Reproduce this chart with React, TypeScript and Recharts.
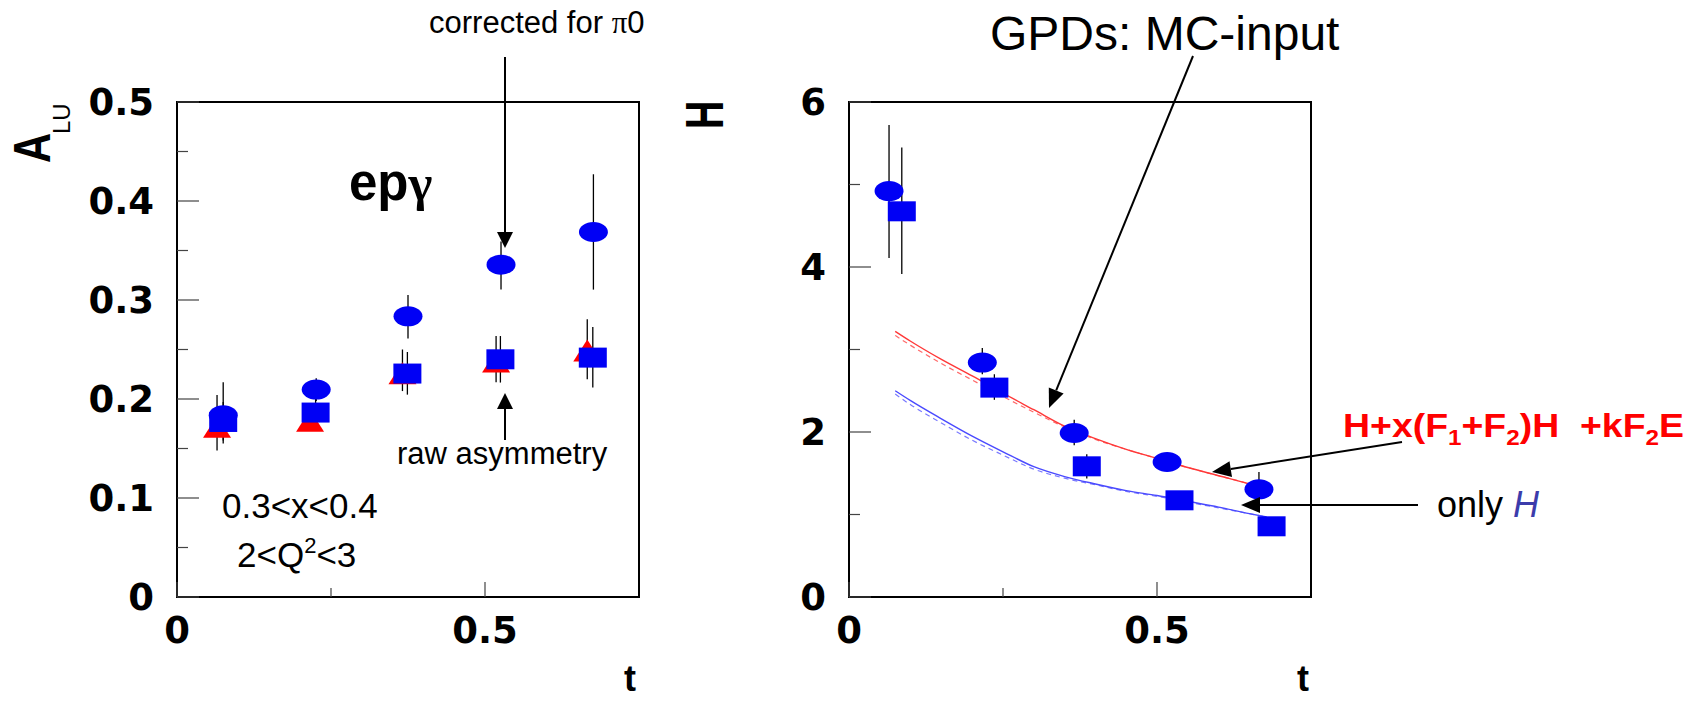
import React from 'react';
import { ComposedChart, Scatter, Line, XAxis, YAxis, ErrorBar, ReferenceArea } from 'recharts';

// ---- left panel: A_LU vs t ----
const aluTCorr = [0.075, 0.226, 0.375, 0.526, 0.676];
const aluCorr = [0.1835, 0.2095, 0.2835, 0.3357, 0.3687];
const aluCorrLo = [0.155, 0.198, 0.261, 0.3105, 0.3105];
const aluCorrHi = [0.217, 0.221, 0.305, 0.359, 0.427];

const aluTRaw = [0.075, 0.225, 0.374, 0.525, 0.675];
const aluRaw = [0.1768, 0.1863, 0.2257, 0.2401, 0.2418];
const aluRawLo = [0.158, 0.172, 0.2044, 0.2166, 0.2115];
const aluRawHi = [0.197, 0.201, 0.2475, 0.2636, 0.2727];

const aluTTri = [0.065, 0.216, 0.366, 0.518, 0.666];
const aluTri = [0.172, 0.178, 0.226, 0.238, 0.249];
const aluTriLo = [0.148, 0.168, 0.208, 0.217, 0.22];
const aluTriHi = [0.204, 0.19, 0.25, 0.2636, 0.2805];

// ---- right panel: H vs t ----
const hTCirc = [0.065, 0.2164, 0.3656, 0.5164, 0.6655];
const hCirc = [4.92, 2.841, 1.988, 1.636, 1.305];
const hCircLo = [4.11, 2.7, 1.84, 1.58, 1.09];
const hCircHi = [5.72, 3.018, 2.15, 1.7, 1.515];

const hTSq = [0.0857, 0.236, 0.386, 0.5365, 0.686];
const hSq = [4.675, 2.538, 1.584, 1.172, 0.857];
const hSqLo = [3.915, 2.39, 1.435, 1.12, 0.82];
const hSqHi = [5.447, 2.7, 1.73, 1.22, 0.9];

const curveT = [0.075, 0.1, 0.15, 0.2, 0.25, 0.3, 0.35, 0.4, 0.45, 0.5, 0.55, 0.6, 0.65, 0.678];
const hRed = [3.22, 3.1, 2.88, 2.68, 2.47, 2.27, 2.07, 1.92, 1.79, 1.68, 1.57, 1.47, 1.37, 1.3];
const hRedDash = [3.17, 3.05, 2.83, 2.63, 2.43, 2.24, 2.06, 1.91, 1.79, 1.68, 1.57, 1.47, 1.37, 1.3];
const hBlue = [2.5, 2.38, 2.16, 1.95, 1.76, 1.58, 1.46, 1.37, 1.29, 1.23, 1.16, 1.09, 1.01, 0.97];
const hBlueDash = [2.46, 2.33, 2.11, 1.9, 1.72, 1.55, 1.44, 1.36, 1.28, 1.22, 1.15, 1.08, 1.01, 0.97];

const leftYTicks = [0, 0.05, 0.1, 0.15, 0.2, 0.25, 0.3, 0.35, 0.4, 0.45, 0.5];
const leftYLabels = ['0', '', '0.1', '', '0.2', '', '0.3', '', '0.4', '', '0.5'];
const rightYTicks = [0, 1, 2, 3, 4, 5, 6];
const rightYLabels = ['0', '', '2', '', '4', '', '6'];
const xTicks = [0, 0.25, 0.5];
const xLabels = ['0', '', '0.5'];

const BLUE = '#0000f5';
const RED = '#ff0000';
const TICK_FONT = '"DejaVu Sans", sans-serif';

const mk = (t: number[], v: number[], lo: number[], hi: number[]) =>
  t.map((x, i) => ({ t: x, v: v[i], err: [v[i] - lo[i], hi[i] - v[i]] }));
const curve = (v: number[]) => curveT.map((t, i) => ({ t, v: v[i] }));

const Ellipse = (p: any) => <ellipse cx={p.cx} cy={p.cy} rx={14.5} ry={10} fill={BLUE} />;
const Square = (p: any) => <rect x={p.cx - 14} y={p.cy - 10} width={28} height={20} fill={BLUE} />;
const Tri = (p: any) => (
  <polygon points={`${p.cx},${p.cy - 11} ${p.cx + 14},${p.cy + 11} ${p.cx - 14},${p.cy + 11}`} fill={RED} />
);

const Y_GAP = 23;
const yTick = (ticks: number[], labels: string[]) => (props: any) => {
  const { x, y, payload } = props;
  const idx = ticks.findIndex((v) => Math.abs(v - payload.value) < 1e-9);
  const label = labels[idx] || '';
  const x0 = x + Y_GAP;
  return (
    <g>
      <line x1={x0} x2={x0 + (label ? 22 : 11)} y1={y} y2={y} stroke="#444" strokeWidth={1.2} />
      {label && (
        <text x={x} y={y} dy={13} textAnchor="end" fontFamily={TICK_FONT} fontWeight="bold" fontSize={37} fill="#000">
          {label}
        </text>
      )}
    </g>
  );
};

const xTick = (props: any) => {
  const { x, y, payload } = props;
  const idx = xTicks.findIndex((v) => Math.abs(v - payload.value) < 1e-9);
  const label = xLabels[idx] || '';
  return (
    <g>
      <line x1={x} x2={x} y1={y} y2={y - (label ? 15 : 9)} stroke="#444" strokeWidth={1.2} />
      {label && (
        <text x={x} y={y + 46} textAnchor="middle" fontFamily={TICK_FONT} fontWeight="bold" fontSize={37} fill="#000">
          {label}
        </text>
      )}
    </g>
  );
};

const Arrow = ({ x1, y1, x2, y2, head = 17, hw = 8 }: any) => {
  const dx = x2 - x1;
  const dy = y2 - y1;
  const L = Math.hypot(dx, dy);
  const ux = dx / L;
  const uy = dy / L;
  const bx = x2 - ux * head;
  const by = y2 - uy * head;
  const px = -uy;
  const py = ux;
  return (
    <g>
      <line x1={x1} y1={y1} x2={bx} y2={by} stroke="#000" strokeWidth={2} />
      <polygon points={`${x2},${y2} ${bx + px * hw},${by + py * hw} ${bx - px * hw},${by - py * hw}`} fill="#000" />
    </g>
  );
};

const LeftPanel = () => (
  <ComposedChart width={700} height={701} margin={{ top: 102, right: 61, bottom: 44, left: 77 }}>
    <XAxis dataKey="t" type="number" domain={[0, 0.75]} ticks={xTicks} interval={0} allowDataOverflow
      axisLine={false} tickLine={false} tickSize={0} tickMargin={0} height={60} tick={xTick} />
    <YAxis dataKey="v" type="number" domain={[0, 0.5]} ticks={leftYTicks} interval={0} allowDataOverflow
      axisLine={false} tickLine={false} tickSize={0} tickMargin={Y_GAP} width={100} tick={yTick(leftYTicks, leftYLabels)} />
    <ReferenceArea x1={0} x2={0.75} y1={0} y2={0.5} fill="none" stroke="#000" strokeWidth={2} />
    <Scatter data={mk(aluTTri, aluTri, aluTriLo, aluTriHi)} dataKey="v" shape={Tri} isAnimationActive={false}>
      <ErrorBar dataKey="err" direction="y" width={0} stroke="#000" strokeWidth={1.3} />
    </Scatter>
    <Scatter data={mk(aluTCorr, aluCorr, aluCorrLo, aluCorrHi)} dataKey="v" shape={Ellipse} isAnimationActive={false}>
      <ErrorBar dataKey="err" direction="y" width={0} stroke="#000" strokeWidth={1.3} />
    </Scatter>
    <Scatter data={mk(aluTRaw, aluRaw, aluRawLo, aluRawHi)} dataKey="v" shape={Square} isAnimationActive={false}>
      <ErrorBar dataKey="err" direction="y" width={0} stroke="#000" strokeWidth={1.3} />
    </Scatter>
  </ComposedChart>
);

const RightPanel = () => (
  <ComposedChart width={600} height={701} margin={{ top: 102, right: 39, bottom: 44, left: 19 }}>
    <XAxis dataKey="t" type="number" domain={[0, 0.75]} ticks={xTicks} interval={0} allowDataOverflow
      axisLine={false} tickLine={false} tickSize={0} tickMargin={0} height={60} tick={xTick} />
    <YAxis dataKey="v" type="number" domain={[0, 6]} ticks={rightYTicks} interval={0} allowDataOverflow
      axisLine={false} tickLine={false} tickSize={0} tickMargin={Y_GAP} width={80} tick={yTick(rightYTicks, rightYLabels)} />
    <ReferenceArea x1={0} x2={0.75} y1={0} y2={6} fill="none" stroke="#000" strokeWidth={2} />
    <Scatter data={mk(hTCirc, hCirc, hCircLo, hCircHi)} dataKey="v" shape={Ellipse} isAnimationActive={false}>
      <ErrorBar dataKey="err" direction="y" width={0} stroke="#000" strokeWidth={1.3} />
    </Scatter>
    <Scatter data={mk(hTSq, hSq, hSqLo, hSqHi)} dataKey="v" shape={Square} isAnimationActive={false}>
      <ErrorBar dataKey="err" direction="y" width={0} stroke="#000" strokeWidth={1.3} />
    </Scatter>
    <Line data={curve(hRedDash)} dataKey="v" type="monotone" dot={false} stroke="#ff6a6a" strokeWidth={1.2} strokeDasharray="5 4" isAnimationActive={false} />
    <Line data={curve(hRed)} dataKey="v" type="monotone" dot={false} stroke="#ff3838" strokeWidth={1.4} isAnimationActive={false} />
    <Line data={curve(hBlueDash)} dataKey="v" type="monotone" dot={false} stroke="#7a7aff" strokeWidth={1.2} strokeDasharray="5 4" isAnimationActive={false} />
    <Line data={curve(hBlue)} dataKey="v" type="monotone" dot={false} stroke="#4a4aff" strokeWidth={1.4} isAnimationActive={false} />
  </ComposedChart>
);

const Annotations = () => (
  <svg width={1704} height={701} style={{ position: 'absolute', left: 0, top: 0, pointerEvents: 'none' }}
    fontFamily='"Liberation Sans", Arial, sans-serif'>
    {/* axis titles */}
    <text transform="translate(50,163) rotate(-90) scale(0.8,1)" fontSize={52} fontWeight="bold">A</text>
    <text transform="translate(70,134) rotate(-90)" fontSize={24}>LU</text>
    <text transform="translate(723,129) rotate(-90) scale(0.74,1)" fontSize={53} fontWeight="bold">H</text>
    <text x={630} y={691} textAnchor="middle" fontSize={36} fontWeight="bold">t</text>
    <text x={1303} y={691} textAnchor="middle" fontSize={36} fontWeight="bold">t</text>

    {/* left panel notes */}
    <text x={429} y={33} fontSize={31}>corrected for <tspan fontFamily='"Liberation Serif", serif'>π</tspan>0</text>
    <Arrow x1={505} y1={57} x2={505} y2={248} head={16} hw={8} />
    <text x={349} y={200} fontSize={51} fontWeight="bold">ep<tspan fontFamily='"Liberation Serif", serif'>γ</tspan></text>
    <text x={397} y={464} fontSize={31}>raw asymmetry</text>
    <Arrow x1={505} y1={440} x2={505} y2={393} head={16} hw={8} />
    <text x={222} y={518} fontSize={35}>0.3&lt;x&lt;0.4</text>
    <text x={237} y={567} fontSize={35}>2&lt;Q<tspan fontSize={22} dy={-14}>2</tspan><tspan dy={14}>&lt;3</tspan></text>

    {/* right panel notes */}
    <text x={990} y={50} fontSize={48}>GPDs: MC-input</text>
    <Arrow x1={1193} y1={56} x2={1049} y2={408} head={19} hw={8} />
    <text x={1343} y={437} fontSize={34} fontWeight="bold" fill={RED} textLength={341} lengthAdjust="spacingAndGlyphs">
      H+x(F<tspan fontSize={22} dy={8}>1</tspan><tspan dy={-8}>+F</tspan><tspan fontSize={22} dy={8}>2</tspan><tspan dy={-8}>{')H\u00a0\u00a0+kF'}</tspan><tspan fontSize={22} dy={8}>2</tspan><tspan dy={-8}>E</tspan>
    </text>
    <Arrow x1={1402} y1={442} x2={1212} y2={472} head={19} hw={8} />
    <text x={1437} y={517} fontSize={36}>only <tspan fill="#3c3cab" fontStyle="italic">H</tspan></text>
    <Arrow x1={1418} y1={505} x2={1241} y2={505} head={19} hw={8} />
  </svg>
);

export default function App() {
  return (
    <div style={{ position: 'absolute', left: 0, top: 0, width: 1704, height: 701, background: '#fff', fontFamily: '"Liberation Sans", Arial, sans-serif' }}>
      <div style={{ position: 'absolute', left: 0, top: 0 }}>
        <LeftPanel />
      </div>
      <div style={{ position: 'absolute', left: 750, top: 0 }}>
        <RightPanel />
      </div>
      <Annotations />
    </div>
  );
}
